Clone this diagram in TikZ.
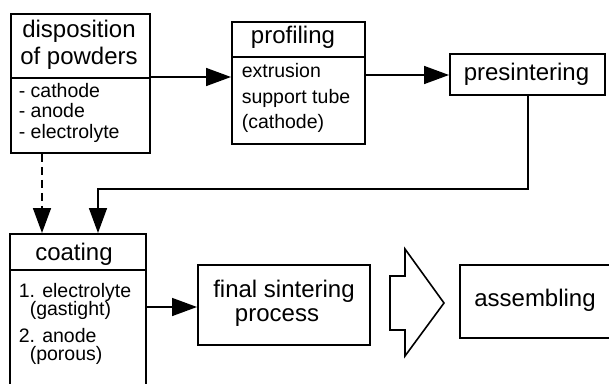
\documentclass[tikz,border=0pt]{standalone}
\usepackage{fontspec}
\setmainfont{Liberation Sans}
\usetikzlibrary{arrows.meta}
\begin{document}
\begin{tikzpicture}[x=1pt,y=-1pt,
  line width=1.6pt,
  box/.style={draw, line width=1.8pt, inner sep=0pt, anchor=north west},
  big/.style={font=\fontsize{24}{27}\selectfont, inner sep=0pt},
  small/.style={font=\fontsize{19.5}{22}\selectfont, inner sep=0pt},
  arr/.style={-{Triangle[length=25pt,width=18pt]}},
  dashline/.style={dash pattern=on 8pt off 5pt},
]
\clip (0,0) rectangle (609,383);
\useasboundingbox (0,0) rectangle (609,383);

% ---- boxes ----
\node[box, minimum width=139pt, minimum height=139pt] (disp) at (10,13) {};
\node[box, minimum width=133pt, minimum height=122pt] (prof) at (231,21) {};
\node[box, minimum width=155pt, minimum height=41pt]  (pres) at (449,53) {};
\node[box, minimum width=136pt, minimum height=170pt] (coat) at (9,233) {};
\node[box, minimum width=172pt, minimum height=80pt]  (fin)  at (197,264) {};
\node[box, minimum width=160pt, minimum height=73pt]  (asm)  at (459,264) {};

% header separators
\draw[line width=1.4pt] (disp.west |- 0,78) -- (disp.east |- 0,78);
\draw[line width=1.4pt] (prof.west |- 0,57) -- (prof.east |- 0,57);
\draw[line width=1.4pt] (coat.west |- 0,270) -- (coat.east |- 0,270);

% ---- texts ----
\node[big, anchor=base] (dispA) at (79,37) {disposition};
\node[big, anchor=base] (dispB) at (79,64) {of powders};
\node[small, anchor=base west] (dispC) at (18,97)  {- cathode};
\node[small, anchor=base west] (dispD) at (18,117) {- anode};
\node[small, anchor=base west] (dispE) at (18,138) {- electrolyte};

\node[big, anchor=base] (profA) at (293,43) {profiling};
\node[small, anchor=base west] (profB) at (241,77)  {extrusion};
\node[small, anchor=base west] (profC) at (241,103) {support tube};
\node[small, anchor=base west] (profD) at (241,128) {(cathode)};

\node[big, anchor=base] (presA) at (526.5,80) {presintering};

\node[big, anchor=base] (coatA) at (74,260) {coating};
\node[small, anchor=base west] (coatB) at (18,297) {1. electrolyte};
\node[small, anchor=base west] (coatC) at (29,315) {(gastight)};
\node[small, anchor=base west] (coatD) at (18,342) {2. anode};
\node[small, anchor=base west] (coatE) at (29,360) {(porous)};

\node[big, anchor=base] (finA) at (284,297) {final sintering};
\node[big, anchor=base] (finB) at (277,321) {process};

\node[big, anchor=base] (asmA) at (535,306) {assembling};

% ---- connectors ----
\draw[arr] (disp.east |- 0,77) -- (prof.west |- 0,77);
\draw[arr] (prof.east |- 0,75) -- (pres.west |- 0,75);
\coordinate (turnA) at (528,189);
\coordinate (turnB) at (98,189);
\draw[arr] (pres.south -| turnA) -- (turnA) -- (turnB) -- (turnB |- coat.north);
\draw[arr, dashline] (disp.south -| 42,0) -- (coat.north -| 42,0);
\draw[arr] (coat.east |- 0,307) -- (fin.west |- 0,307);

% hollow block arrow between final sintering and assembling
\draw[line width=1.6pt, line join=miter]
  (390,276) -- (405,276) -- (405,249) -- (444,303) -- (405,356) -- (405,330) -- (390,330) -- cycle;
\end{tikzpicture}
\end{document}
